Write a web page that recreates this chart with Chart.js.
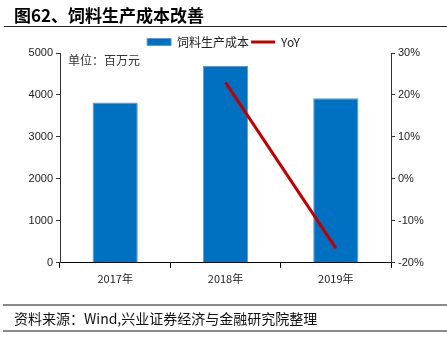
<!DOCTYPE html>
<html>
<head>
<meta charset="utf-8">
<script src="https://cdn.jsdelivr.net/npm/chart.js@4"></script>
<style>
    body { margin: 0; width: 447px; height: 340px; background: #fff; position: relative; overflow: hidden; font-family: "Noto Sans CJK SC", sans-serif; }
    #title { position: absolute; left: 14px; top: 2px; font-size: 17px; font-weight: bold; color: #000; }
    #titleLine { position: absolute; left: 4px; right: 0; top: 26px; height: 0; border-top: 1.5px solid #222; }
    #chartBox { position: absolute; left: 0; top: 0; width: 447px; height: 340px; }
    #footTop { position: absolute; left: 3px; right: 0; top: 304px; border-top: 2px solid #8a8a8a; }
    #footText { position: absolute; left: 14px; top: 308px; font-size: 14px; color: #111; }
    #footBottom { position: absolute; left: 3px; right: 0; top: 330px; border-top: 2px solid #8a8a8a; }
</style>
</head>
<body>
<div id="chartBox"><canvas id="myChart"></canvas></div>
<div id="title">图62、饲料生产成本改善</div>
<div id="titleLine"></div>
<div id="footTop"></div>
<div id="footText">资料来源：Wind,兴业证券经济与金融研究院整理</div>
<div id="footBottom"></div>
<script>
const YEARS = ["2017年", "2018年", "2019年"];
const COST = [3820, 4690, 3920];      // 百万元
const YOY = [null, 23.0, -16.5];       // %

// unit note in the top-left corner of the plot
const unitLabel = {
    id: "unitLabel",
    afterDraw(chart) {
        const ctx = chart.ctx;
        const a = chart.chartArea;
        ctx.save();
        ctx.font = '12px "Noto Sans CJK SC"';
        ctx.fillStyle = "#333";
        ctx.textBaseline = "middle";
        ctx.fillText("单位：百万元", a.left + 8, a.top + 7);
        ctx.restore();
    },
};

// legend box a bit shorter so the plot starts closer to it
const tightLegend = {
    id: "tightLegend",
    beforeInit(chart) {
        const lg = chart.legend;
        if (!lg) return;
        const fit = lg.fit;
        lg.fit = function () {
            fit.call(this);
            this.height -= 5;
        };
    },
};

const data1 = {
    labels: YEARS,
    datasets: [
        {
            type: "bar",
            label: "饲料生产成本",
            data: COST,
            backgroundColor: "#0070C0",
            borderColor: "#5B9BD5",
            borderWidth: 1,
            barPercentage: 0.41,
            categoryPercentage: 1,
            pointStyle: "rect",
            yAxisID: "y",
            order: 2,
        },
        {
            type: "line",
            label: "YoY",
            data: YOY,
            borderColor: "#C00000",
            backgroundColor: "#C00000",
            borderWidth: 3,
            pointRadius: 0,
            pointStyle: "line",
            yAxisID: "y1",
            order: 1,
        },
    ],
};

const tickFont = { family: "Liberation Sans, Arial", size: 11 };

const config1 = {
    data: data1,
    options: {
        responsive: false,
        animation: false,
        layout: { padding: { top: 34, bottom: 51, left: 0, right: 0 } },
        plugins: {
            legend: {
                labels: {
                    usePointStyle: true,
                    pointStyleWidth: 24,
                    boxHeight: 7,
                    padding: 2,
                    color: "#222",
                    font: { family: "Noto Sans CJK SC", size: 12 },
                    sort: (a, b) => a.datasetIndex - b.datasetIndex,
                },
            },
            tooltip: { enabled: false },
        },
        scales: {
            x: {
                grid: { drawOnChartArea: false, offset: true, color: "#000", tickLength: 5 },
                border: { color: "#000" },
                ticks: { color: "#222", font: { family: "Noto Sans CJK SC", size: 11 }, padding: 4 },
            },
            y: {
                position: "left",
                min: 0,
                max: 5000,
                ticks: { stepSize: 1000, color: "#222", font: tickFont, padding: 3, callback: (v) => String(v) },
                grid: { drawOnChartArea: false, color: "#333", tickLength: 4 },
                border: { color: "#333" },
                afterFit(axis) { axis.width = 60; },
            },
            y1: {
                position: "right",
                min: -20,
                max: 30,
                ticks: { stepSize: 10, color: "#222", font: tickFont, padding: 3, callback: (v) => v + "%" },
                grid: { drawOnChartArea: false, color: "#333", tickLength: 4 },
                border: { color: "#333" },
                afterFit(axis) { axis.width = 56; },
            },
        },
    },
    plugins: [tightLegend, unitLabel],
};

var canvas = document.getElementById("myChart");
canvas.width = 447;
canvas.height = 340;
var ctx = canvas.getContext("2d");
var myChart = new Chart(ctx, config1);
</script>
</body>
</html>
